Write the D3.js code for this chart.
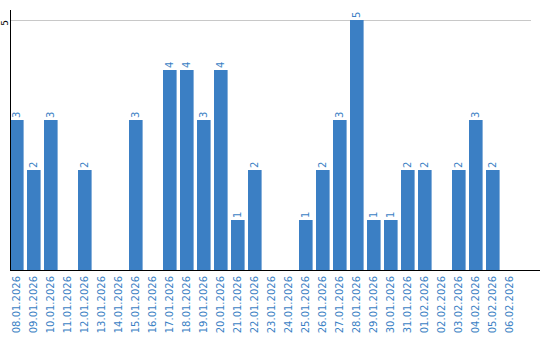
<!DOCTYPE html>
<html>
<head>
<meta charset="utf-8">
<script src="https://cdn.jsdelivr.net/npm/d3@7"></script>
<style>
  body { margin: 0; background: #fff; }
  text { font-family: "DejaVu Sans", sans-serif; }
</style>
</head>
<body>
<div id="chart"></div>
<script>
const dates = ['08.01.2026', '09.01.2026', '10.01.2026', '11.01.2026', '12.01.2026', '13.01.2026',
  '14.01.2026', '15.01.2026', '16.01.2026', '17.01.2026', '18.01.2026', '19.01.2026', '20.01.2026',
  '21.01.2026', '22.01.2026', '23.01.2026', '24.01.2026', '25.01.2026', '26.01.2026', '27.01.2026',
  '28.01.2026', '29.01.2026', '30.01.2026', '31.01.2026', '01.02.2026', '02.02.2026', '03.02.2026',
  '04.02.2026', '05.02.2026', '06.02.2026'];
const counts = [3, 2, 3, 0, 2, 0, 0, 3, 0, 4, 4, 3, 4, 1, 2, 0, 0, 1, 2, 3, 5, 1, 1, 2, 2, 0, 2, 3, 2, 0];
const yTicks = [5];

const width = 540, height = 340;
const margin = {top: 10, right: 9, bottom: 70, left: 10};
const blue = '#3b7fc4';

const svg = d3.select('#chart').append('svg')
    .attr('width', width)
    .attr('height', height);

const x = d3.scaleBand()
    .domain(dates)
    .range([margin.left, 520])
    .paddingInner(0.2)
    .paddingOuter(0.1)
    .align(0);

const y = d3.scaleLinear()
    .domain([0, 5])
    .range([height - margin.bottom, 20]);

// gridline
svg.selectAll('.grid')
    .data(yTicks)
  .join('line')
    .attr('class', 'grid')
    .attr('x1', margin.left)
    .attr('x2', width - margin.right)
    .attr('y1', d => y(d) + 0.5)
    .attr('y2', d => y(d) + 0.5)
    .attr('stroke', '#c8c8c8')
    .attr('stroke-width', 1);

// y tick labels
svg.selectAll('.ytick')
    .data(yTicks)
  .join('text')
    .attr('class', 'ytick')
    .attr('transform', d => `translate(5,${y(d) + 3}) rotate(-90)`)
    .attr('text-anchor', 'middle')
    .attr('dy', '.35em')
    .attr('font-size', 9)
    .attr('fill', '#000')
    .text(d => d);

// bars
const data = dates.map((d, i) => ({date: d, value: counts[i]}));

svg.selectAll('.bar')
    .data(data.filter(d => d.value > 0))
  .join('rect')
    .attr('class', 'bar')
    .attr('x', d => x(d.date))
    .attr('y', d => y(d.value))
    .attr('width', x.bandwidth())
    .attr('height', d => y(0) - y(d.value))
    .attr('fill', blue);

// value labels
svg.selectAll('.vlabel')
    .data(data.filter(d => d.value > 0))
  .join('text')
    .attr('class', 'vlabel')
    .attr('transform', d => `translate(${x(d.date) + x.bandwidth() / 2},${y(d.value) - 2}) rotate(-90)`)
    .attr('text-anchor', 'start')
    .attr('dy', '.35em')
    .attr('font-size', 10)
    .attr('fill', blue)
    .text(d => d.value);

// axes lines
svg.append('line')
    .attr('x1', margin.left + 0.5)
    .attr('x2', margin.left + 0.5)
    .attr('y1', margin.top)
    .attr('y2', y(0))
    .attr('stroke', '#000');

svg.append('line')
    .attr('x1', margin.left)
    .attr('x2', width)
    .attr('y1', y(0) + 0.5)
    .attr('y2', y(0) + 0.5)
    .attr('stroke', '#000');

// x labels
svg.selectAll('.xlabel')
    .data(dates)
  .join('text')
    .attr('class', 'xlabel')
    .attr('transform', d => `translate(${x(d) + x.bandwidth() / 2},${y(0) + 6}) rotate(-90)`)
    .attr('text-anchor', 'end')
    .attr('dy', '.35em')
    .attr('font-size', 10)
    .attr('fill', blue)
    .text(d => d);
</script>
</body>
</html>
